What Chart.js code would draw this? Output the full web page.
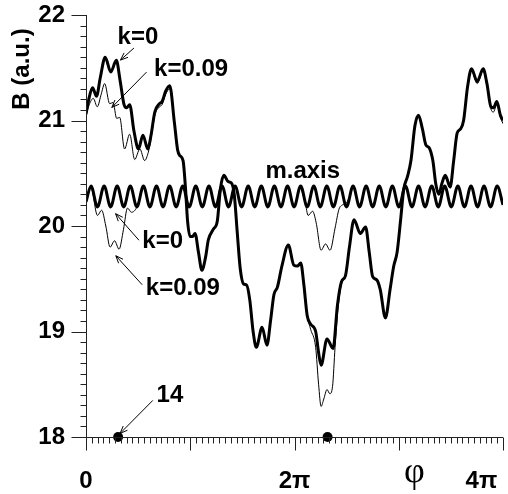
<!DOCTYPE html>
<html>
<head>
<meta charset="utf-8">
<script src="https://cdn.jsdelivr.net/npm/chart.js@4.4.0/dist/chart.umd.min.js"></script>
<style>html,body{margin:0;padding:0;background:#fff}canvas{display:block}</style>
</head>
<body>
<canvas id="c" width="508" height="494"></canvas>
<script>
// ---- data (phi in units of pi, B in a.u.) ----
const mainPhiK0 = [0.000,0.031,0.063,0.101,0.136,0.184,0.238,0.291,0.327,0.365,0.389,0.419,0.460,0.503,0.546,0.593,0.622,0.660,0.705,0.730,0.765,0.803,0.848,0.879,0.898,0.931,0.955,0.974,0.998,1.022,1.046,1.079,1.112,1.146,1.174,1.222,1.260,1.289,1.322,1.365,1.393,1.422,1.450,1.479,1.512,1.541,1.571,1.603,1.634,1.689,1.736,1.770,1.803,1.836,1.879,1.941,1.993,2.027,2.060,2.089,2.122,2.155,2.203,2.231,2.255,2.312,2.370,2.412,2.450,2.489,2.527,2.571,2.631,2.682,2.717,2.750,2.789,2.822,2.872,2.917,2.952,2.984,3.017,3.048,3.084,3.117,3.155,3.190,3.227,3.260,3.293,3.327,3.355,3.384,3.413,3.446,3.493,3.527,3.560,3.593,3.622,3.660,3.698,3.752,3.810,3.846,3.884,3.908,3.941,3.975,4.000];
const mainBK0 = [21.06,21.22,21.31,21.23,21.40,21.60,21.46,21.57,21.38,21.15,21.12,21.15,20.90,20.73,20.86,20.73,20.85,21.08,21.16,21.18,21.28,21.33,20.98,20.72,20.67,20.62,20.35,20.05,19.90,19.90,19.93,19.75,19.58,19.70,19.87,19.97,20.05,20.35,20.48,20.42,20.41,20.30,19.95,19.60,19.45,19.44,19.30,19.00,18.85,19.04,18.87,19.10,19.35,19.42,19.62,19.82,19.63,19.62,19.65,19.45,19.15,19.07,19.00,18.80,18.68,18.93,18.84,19.25,19.47,19.53,19.80,20.06,19.93,19.99,19.75,19.52,19.49,19.40,19.13,19.40,19.62,19.75,20.05,20.35,20.47,20.62,20.95,21.05,20.92,20.77,20.74,20.62,20.40,20.30,20.40,20.48,20.37,20.62,20.88,20.92,21.00,21.32,21.49,21.37,21.49,21.35,21.13,21.12,21.18,21.05,21.00];

const mainPhiK009 = [0.000,0.031,0.070,0.108,0.146,0.179,0.227,0.260,0.294,0.323,0.370,0.419,0.467,0.517,0.562,0.598,0.622,0.660,0.705,0.730,0.765,0.803,0.848,0.879,0.898,0.931,0.955,0.974,0.998,1.022,1.046,1.079,1.112,1.146,1.174,1.222,1.260,1.289,1.322,1.365,1.393,1.422,1.450,1.479,1.512,1.541,1.571,1.603,1.634,1.689,1.736,1.770,1.803,1.836,1.879,1.941,1.993,2.027,2.060,2.089,2.122,2.155,2.203,2.231,2.255,2.281,2.312,2.339,2.365,2.389,2.418,2.450,2.489,2.527,2.571,2.631,2.682,2.717,2.750,2.789,2.822,2.872,2.917,2.952,2.984,3.017,3.048,3.084,3.117,3.155,3.190,3.227,3.260,3.293,3.327,3.355,3.384,3.413,3.446,3.493,3.527,3.560,3.593,3.622,3.660,3.698,3.752,3.810,3.846,3.884,3.908,3.941,3.975,4.000];
const mainBK009 = [21.05,21.15,21.21,21.13,21.25,21.35,21.16,21.17,21.02,21.03,20.73,20.87,20.63,20.73,20.62,20.70,20.82,21.05,21.13,21.15,21.25,21.30,20.96,20.70,20.67,20.62,20.35,20.05,19.90,19.90,19.93,19.75,19.58,19.70,19.87,19.97,20.05,20.35,20.47,20.42,20.41,20.30,19.95,19.60,19.45,19.44,19.30,19.00,18.85,19.04,18.87,19.10,19.35,19.42,19.62,19.82,19.63,19.62,19.65,19.45,19.15,19.02,18.85,18.50,18.29,18.36,18.45,18.41,18.48,18.85,19.22,19.45,19.53,19.80,20.05,19.92,19.98,19.75,19.52,19.49,19.40,19.12,19.40,19.62,19.75,20.05,20.35,20.46,20.62,20.95,21.04,20.92,20.77,20.73,20.62,20.40,20.30,20.40,20.47,20.36,20.62,20.87,20.91,21.00,21.31,21.47,21.35,21.47,21.33,21.11,21.08,21.15,21.03,20.97];

const axisPhiK0 = [0.000,0.048,0.110,0.174,0.236,0.299,0.362,0.425,0.488,0.551,0.613,0.676,0.739,0.802,0.865,0.928,0.990,1.053,1.116,1.179,1.242,1.305,1.367,1.430,1.493,1.556,1.619,1.682,1.744,1.807,1.870,1.933,1.996,2.059,2.122,2.185,2.247,2.310,2.373,2.436,2.499,2.562,2.624,2.687,2.750,2.813,2.876,2.939,3.001,3.064,3.127,3.190,3.253,3.316,3.379,3.441,3.504,3.567,3.630,3.693,3.756,3.818,3.881,3.944,4.000];
const axisBK0 = [20.23,20.38,20.18,20.38,20.18,20.38,20.18,20.38,20.18,20.38,20.18,20.38,20.18,20.38,20.18,20.38,20.18,20.38,20.18,20.38,20.18,20.38,20.18,20.38,20.18,20.38,20.18,20.38,20.18,20.38,20.18,20.38,20.18,20.38,20.18,20.38,20.18,20.38,20.18,20.38,20.18,20.38,20.18,20.38,20.18,20.38,20.18,20.38,20.18,20.38,20.18,20.38,20.18,20.38,20.18,20.38,20.18,20.38,20.18,20.38,20.18,20.38,20.18,20.38,20.20];

// k=0.09 on the magnetic axis: only where it leaves the k=0 curve (null = hidden under it)
const axisPhiK009 = [0.000,0.048,0.110,0.150,0.190,0.231,0.274,0.317,0.360,0.398,0.436,0.488,0.551,1.300,2.059,2.103,2.131,2.174,2.208,2.255,2.298,2.341,2.389,2.427,2.460,2.499,2.562];
const axisBK009 = [20.23,20.36,20.10,20.15,20.00,19.80,19.86,19.78,19.97,20.17,20.13,20.18,20.38,null,20.37,20.22,20.10,20.14,20.03,19.77,19.83,19.77,19.98,20.16,20.20,20.22,20.38];

const markerPhi = [0.308, 2.317];
const markerB = [18, 18];

const yTickValues = [18, 19, 20, 21, 22];
const xTickValues = [0, 2, 3.15, 3.793];
const xTickLabels = ['0', '2π', 'φ', '4π'];

// ---- annotation layout (data coordinates) ----
const notes = [
  {text: 'k=0',    x: 0.498, y: 21.79,  from: [0.460, 21.687], to: [0.331, 21.573]},
  {text: 'k=0.09', x: 1.008, y: 21.483, from: [0.581, 21.459], to: [0.248, 21.124]},
  {text: 'm.axis', x: 2.079, y: 20.515},
  {text: 'k=0',    x: 0.736, y: 19.851, from: [0.508, 19.865], to: [0.284, 20.117]},
  {text: 'k=0.09', x: 0.929, y: 19.410, from: [0.539, 19.443], to: [0.286, 19.718]},
  {text: '14',     x: 0.805, y: 18.395, from: [0.641, 18.347], to: [0.327, 18.034]}
];

const pts = (xs, ys) => xs.map((x, i) => ({x: x, y: ys[i]}));
const SANS = '"Liberation Sans", Arial, sans-serif';

const decor = {
  id: 'decor',
  afterDraw(chart) {
    const {ctx, chartArea: a, scales: {x, y}} = chart;
    ctx.save();
    ctx.strokeStyle = '#222';
    ctx.lineWidth = 1;
    ctx.beginPath();
    const L = Math.round(a.left) + 0.5, B = Math.round(a.bottom) + 0.5;
    ctx.moveTo(L, a.top); ctx.lineTo(L, B);
    ctx.moveTo(L, B); ctx.lineTo(a.right, B);
    for (let i = 0; i <= 40; i++) {
      const py = Math.round(y.getPixelForValue(18 + i / 10)) + 0.5;
      const len = i % 10 === 0 ? 15 : 6;
      ctx.moveTo(L, py); ctx.lineTo(L - len, py);
    }
    for (let i = 0; i <= 72; i++) {
      const px = Math.round(x.getPixelForValue(i / 18)) + 0.5;
      const len = i % 18 === 0 ? 13 : 6;
      ctx.moveTo(px, B); ctx.lineTo(px, B + len);
    }
    ctx.stroke();

    // y-axis title
    ctx.save();
    ctx.translate(22, a.top + 54);
    ctx.rotate(-Math.PI / 2);
    ctx.fillStyle = '#000';
    ctx.font = 'bold 24px ' + SANS;
    ctx.textAlign = 'center';
    ctx.textBaseline = 'middle';
    ctx.fillText('B (a.u.)', 0, 0);
    ctx.restore();

    // annotations
    ctx.fillStyle = '#000';
    ctx.font = 'bold 24px ' + SANS;
    ctx.textAlign = 'center';
    ctx.textBaseline = 'middle';
    ctx.strokeStyle = '#000';
    ctx.lineWidth = 1;
    notes.forEach(n => {
      ctx.fillText(n.text, x.getPixelForValue(n.x), y.getPixelForValue(n.y));
      if (n.from) {
        const x0 = x.getPixelForValue(n.from[0]), y0 = y.getPixelForValue(n.from[1]);
        const x1 = x.getPixelForValue(n.to[0]), y1 = y.getPixelForValue(n.to[1]);
        const ang = Math.atan2(y1 - y0, x1 - x0);
        const h = 8, w = 0.38;
        ctx.beginPath();
        ctx.moveTo(x0, y0); ctx.lineTo(x1, y1);
        ctx.moveTo(x1 - h * Math.cos(ang - w), y1 - h * Math.sin(ang - w));
        ctx.lineTo(x1, y1);
        ctx.lineTo(x1 - h * Math.cos(ang + w), y1 - h * Math.sin(ang + w));
        ctx.stroke();
      }
    });
    ctx.restore();
  }
};

const thin = {borderColor: '#000', borderWidth: 1, pointRadius: 0, fill: false, cubicInterpolationMode: 'monotone', showLine: true, order: 3};
const thick = {borderColor: '#000', borderWidth: 3, pointRadius: 0, fill: false, cubicInterpolationMode: 'monotone', showLine: true, order: 2};

new Chart(document.getElementById('c'), {
  type: 'scatter',
  data: {
    datasets: [
      Object.assign({label: 'k=0.09', data: pts(mainPhiK009, mainBK009)}, thin),
      Object.assign({label: 'k=0.09 m.axis', data: pts(axisPhiK009, axisBK009), spanGaps: false}, thin),
      Object.assign({label: 'k=0', data: pts(mainPhiK0, mainBK0)}, thick),
      Object.assign({label: 'k=0 m.axis', data: pts(axisPhiK0, axisBK0)}, thick),
      {label: 'markers', data: pts(markerPhi, markerB), showLine: false, pointRadius: 5, pointBackgroundColor: '#000', pointBorderColor: '#000', pointBorderWidth: 0, clip: false, order: 1}
    ]
  },
  options: {
    responsive: false,
    devicePixelRatio: 1,
    animation: false,
    events: [],
    layout: {padding: {top: 15, right: 1, left: 0, bottom: 0}},
    plugins: {legend: {display: false}, tooltip: {enabled: false}},
    scales: {
      x: {
        type: 'linear', min: 0, max: 4,
        grid: {display: false, drawTicks: false},
        border: {display: false},
        afterBuildTicks: s => { s.ticks = xTickValues.map(v => ({value: v})); },
        afterFit: s => { s.height = 57; s.paddingLeft = 0; s.paddingRight = 0; s.paddingTop = 0; s.paddingBottom = 0; },
        ticks: {
          autoSkip: false, maxRotation: 0, minRotation: 0, padding: 30, color: '#000',
          callback: (v, i) => xTickLabels[i],
          font: c => c.index === 2
            ? {family: '"Liberation Serif", "Times New Roman", serif', size: 36, weight: 'normal', lineHeight: 0.3}
            : {family: SANS, size: 24, weight: 'bold', lineHeight: 1.2}
        }
      },
      y: {
        type: 'linear', min: 18, max: 22,
        grid: {display: false, drawTicks: false},
        border: {display: false},
        afterBuildTicks: s => { s.ticks = yTickValues.map(v => ({value: v})); },
        afterFit: s => { s.width = 86; s.paddingLeft = 0; s.paddingRight = 0; s.paddingTop = 0; s.paddingBottom = 0; },
        ticks: {padding: 21, color: '#000', font: {family: SANS, size: 24, weight: 'bold'}}
      }
    }
  },
  plugins: [decor]
});
</script>
</body>
</html>
